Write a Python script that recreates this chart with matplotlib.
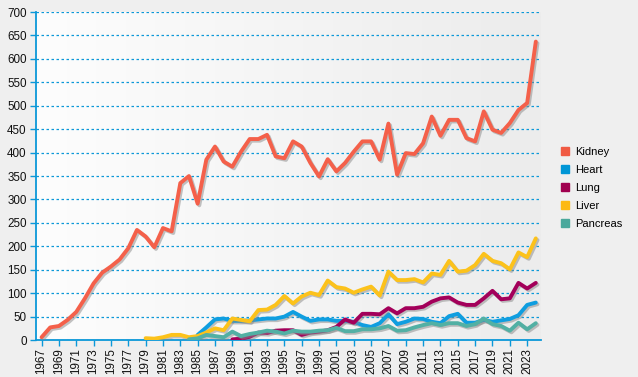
import numpy as np
import matplotlib
matplotlib.use("Agg")
import matplotlib.pyplot as plt
import matplotlib.patheffects as pe
from matplotlib.lines import Line2D

plt.rcParams['font.family'] = ['Liberation Sans', 'DejaVu Sans']

# Data
YEARS = list(range(1967, 2025))

KIDNEY = [6, 27, 30, 43, 60, 89, 121, 144, 157, 172, 196, 235, 221, 198, 239, 232,
          335, 350, 291, 385, 413, 381, 370, 402, 429, 429, 438, 392, 388, 424, 413,
          378, 349, 386, 360, 378, 402, 424, 424, 385, 462, 353, 399, 397, 420, 477,
          436, 470, 470, 431, 424, 488, 449, 442, 463, 491, 506, 637]

HEART_YEARS = list(range(1985, 2025))
HEART = [11, 27, 44, 46, 41, 41, 42, 44, 46, 46, 50, 60, 50, 41, 44, 44, 41, 41, 39,
         32, 28, 36, 55, 34, 39, 46, 45, 39, 36, 51, 56, 37, 37, 43, 39, 42, 45, 53,
         75, 80]

LUNG_YEARS = list(range(1989, 2025))
LUNG = [1.5, 3, 7, 16, 15, 20, 21, 21, 11, 16, 18, 21, 28, 44, 37, 56, 56, 55, 68,
        57, 68, 68, 71, 82, 89, 91, 80, 75, 75, 89, 105, 87, 89, 122, 110, 122]

LIVER_YEARS = list(range(1979, 2025))
LIVER = [4, 3, 6, 11, 11, 6, 8.5, 16, 25, 21, 46, 43, 40, 64, 65, 75, 94, 78, 93,
         101, 96, 127, 113, 110, 101, 108, 114, 95, 146, 128, 128, 130, 123, 142,
         139, 169, 146, 148, 160, 184, 169, 164, 151, 187, 177, 217]

PANCREAS_YEARS = list(range(1984, 2025))
PANCREAS = [1.5, 3.6, 11, 8.5, 6, 18, 8.5, 13, 16, 20, 18, 14, 20, 18, 18, 20, 21,
            26, 19, 19, 23, 23, 25, 30, 20, 21, 27, 32, 36, 32, 36, 36, 30, 34, 46,
            34, 30, 20, 37, 23, 36]

SERIES = [
    ("Kidney", YEARS, KIDNEY, "#f4604a", "#f05a43"),
    ("Heart", HEART_YEARS, HEART, "#0f9ee0", "#0096d6"),
    ("Lung", LUNG_YEARS, LUNG, "#a3005a", "#a0004f"),
    ("Liver", LIVER_YEARS, LIVER, "#fcc21b", "#fdb913"),
    ("Pancreas", PANCREAS_YEARS, PANCREAS, "#52b0a4", "#4aa89c"),
]

AXIS_BLUE = "#0b98d8"

fig = plt.figure(figsize=(6.38, 3.77), dpi=100, facecolor="#efefef")
ax = fig.add_axes([0.057, 0.098, 0.791, 0.870])

# light gradient background, white on the left to grey on the right
grad = np.linspace(0, 1, 256).reshape(1, -1)
ax.imshow(grad, extent=[0, 1, 0, 1], transform=ax.transAxes, aspect="auto",
          cmap=matplotlib.colors.LinearSegmentedColormap.from_list("bg", ["#fdfdfd", "#ececec"]),
          zorder=0)

shadow = [pe.SimpleLineShadow(offset=(1.2, -1.2), shadow_color="#888888", alpha=0.5),
          pe.Normal()]

for name, xs, ys, col, _ in SERIES:
    ax.plot(xs, ys, color=col, lw=2.8, solid_joinstyle="round",
            solid_capstyle="round", path_effects=shadow, zorder=3)

ax.set_xlim(1966.4, 2024.6)
ax.set_ylim(0, 700)
ax.set_yticks(range(0, 701, 50))
ax.set_xticks(range(1967, 2024, 2))
ax.tick_params(axis="x", rotation=90, labelsize=8.4, colors=AXIS_BLUE,
               labelcolor="#111111", length=4, width=1, pad=2)
ax.tick_params(axis="y", labelsize=8.4, colors=AXIS_BLUE, labelcolor="#111111",
               length=4, width=1, pad=3)

ax.grid(axis="y", color=AXIS_BLUE, linestyle=(0, (2, 2)), linewidth=0.9, zorder=1)
ax.set_axisbelow(True)
for s in ["top", "right"]:
    ax.spines[s].set_visible(False)
for s in ["left", "bottom"]:
    ax.spines[s].set_color(AXIS_BLUE)
    ax.spines[s].set_linewidth(1.3)

handles = [Line2D([], [], marker="s", linestyle="none", markersize=5.5,
                  markerfacecolor=lc, markeredgecolor=lc) for _, _, _, _, lc in SERIES]
fig.legend(handles, [s[0] for s in SERIES], loc="center left",
           bbox_to_anchor=(0.864, 0.501), frameon=False, fontsize=8,
           handlelength=0.7, handletextpad=0.55, labelspacing=0.72)

fig.savefig("out.png", dpi=100, facecolor=fig.get_facecolor())
